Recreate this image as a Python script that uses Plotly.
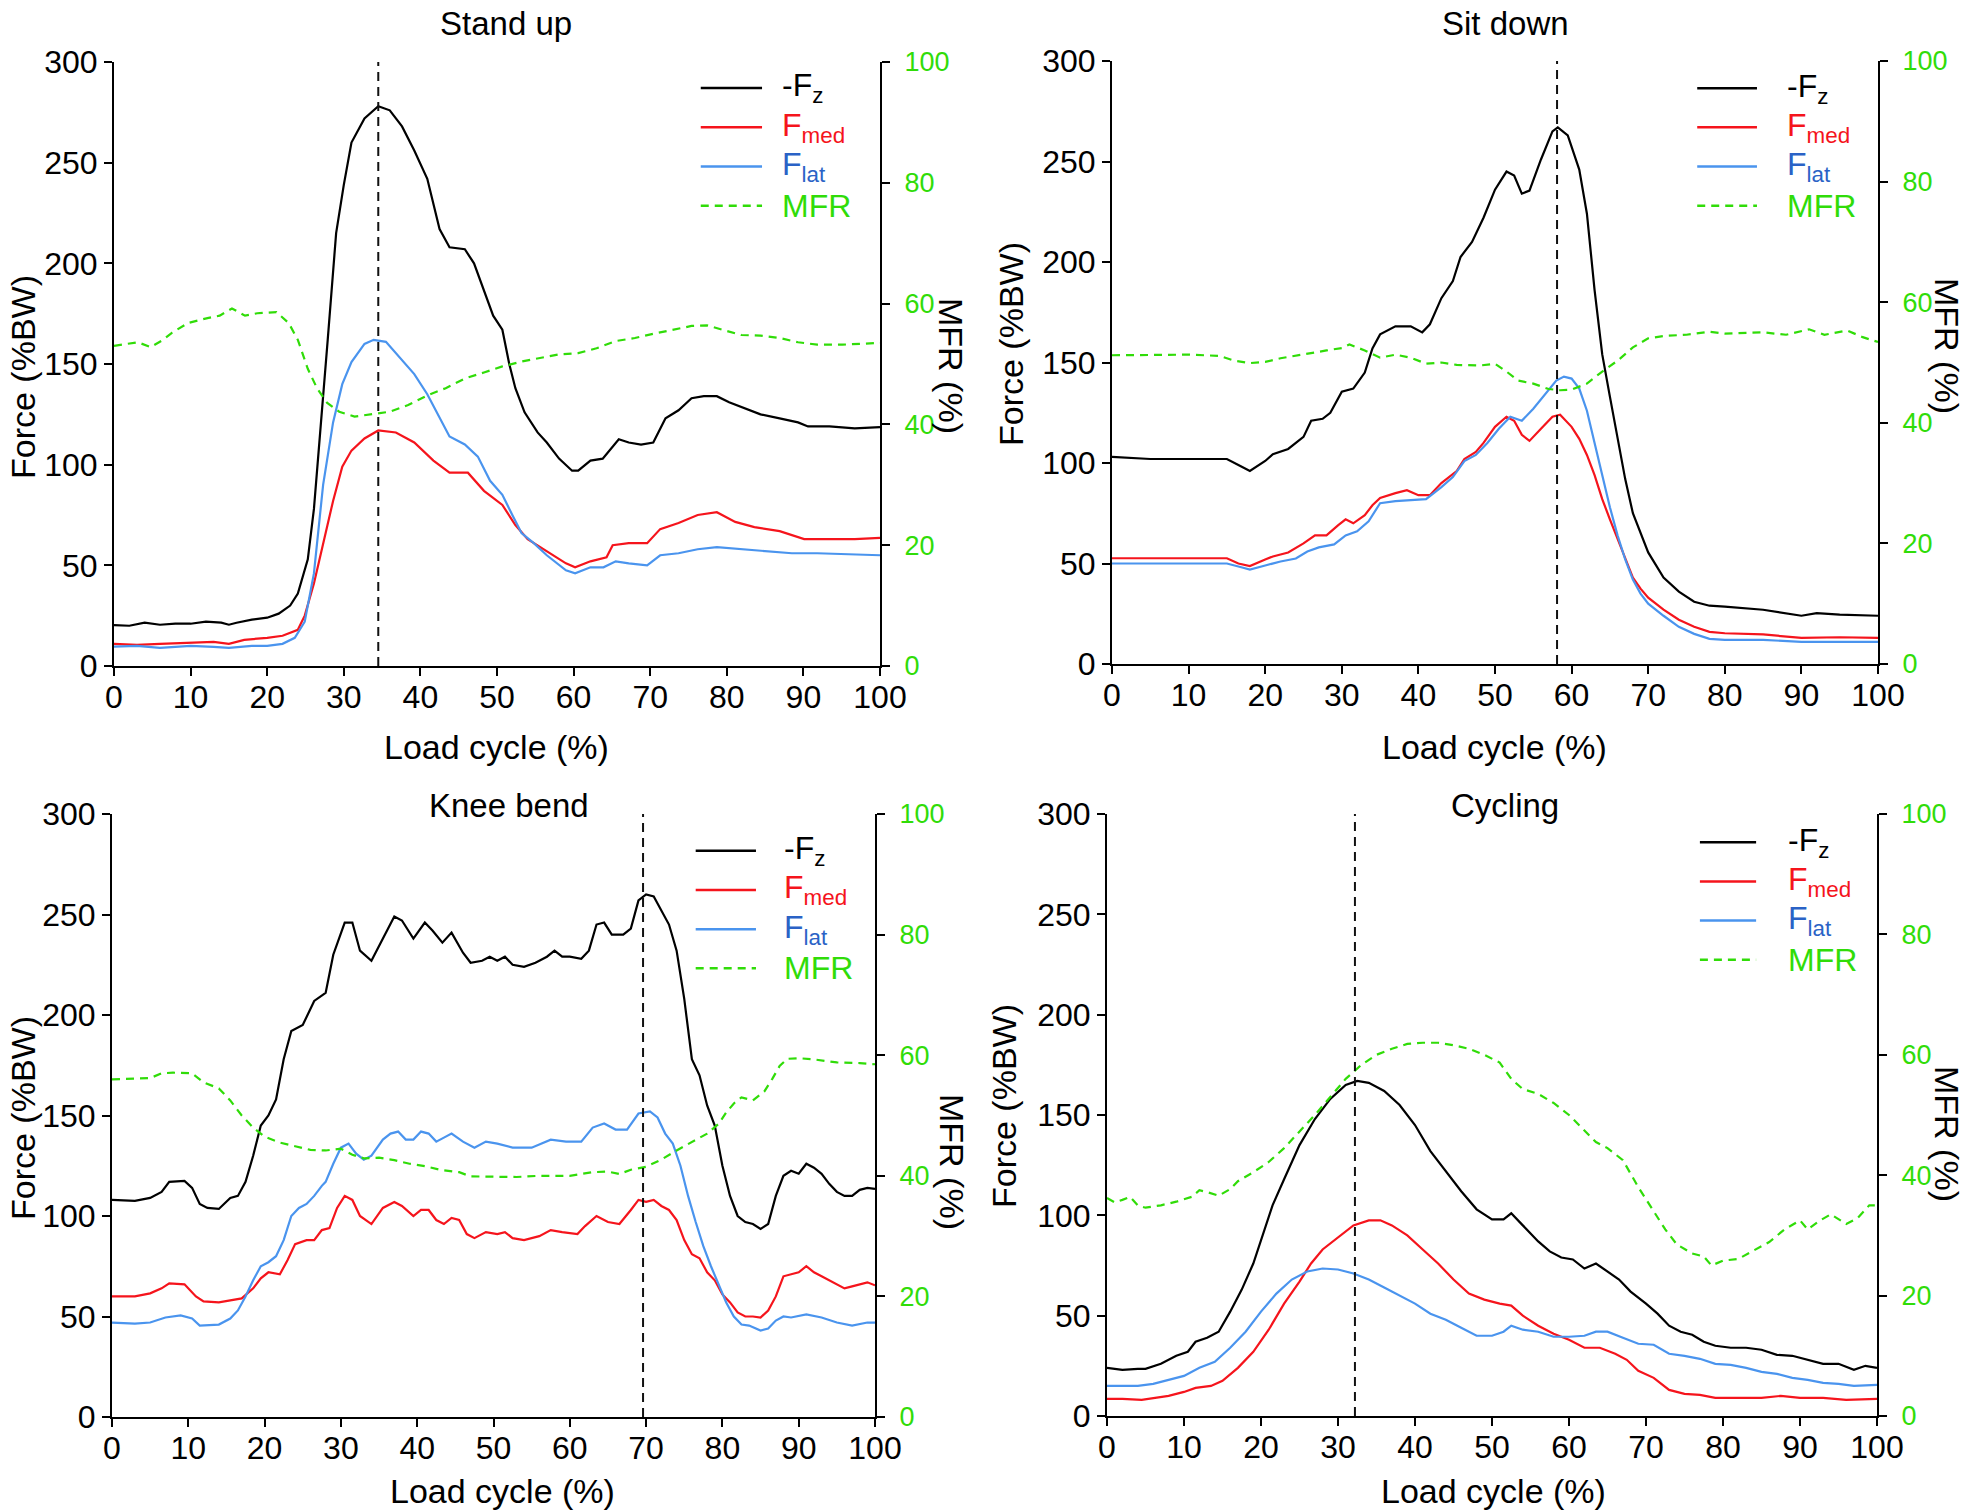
import plotly.graph_objects as go

# ---------------- data ----------------
panel_titles = ["Stand up", "Sit down", "Knee bend", "Cycling"]
peak_cycle = [34.5, 58.1, 69.6, 32.2]   # load-cycle position of the dashed marker line

x_ticks = [0, 10, 20, 30, 40, 50, 60, 70, 80, 90, 100]
force_ticks = [0, 50, 100, 150, 200, 250, 300]
mfr_ticks = [0, 20, 40, 60, 80, 100]

# Stand up
stand_fz = [(0, 20.3), (2, 20), (4, 21.5), (6, 20.5), (8, 21), (10, 21), (12, 22), (14, 21.5), (15, 20.5), (16, 21.5),
            (18, 23), (20, 24), (21.5, 26), (23, 30), (24, 36), (25.3, 53), (26.1, 78), (26.9, 114), (27.9, 162),
            (29, 215), (30, 239), (31, 260), (32.7, 272), (34.5, 278), (36, 276), (37.6, 268), (39.2, 256),
            (40.9, 242), (41.7, 230), (42.5, 217), (43.8, 208), (45.8, 207), (47, 200), (48.3, 186), (49.5, 174),
            (50.7, 167), (51.6, 150), (52.4, 138), (53.6, 126), (55.3, 116), (56.5, 111), (58.1, 103), (59.8, 97),
            (60.6, 97), (62.2, 102), (63.8, 103), (64.7, 107), (65.9, 112.6), (67.2, 111), (68.8, 110), (70.4, 111),
            (72, 123), (73.7, 127), (75.4, 133), (77, 134), (78.7, 134), (80.3, 131), (82.3, 128), (84.4, 125),
            (86.9, 123), (89.3, 121), (90.6, 119), (93.4, 119), (96.7, 118), (100, 118.6)]
stand_fmed = [(0, 11), (3, 10.5), (6, 11), (10, 11.5), (13, 12), (15, 11), (17, 13), (20, 14), (22, 15), (24, 18),
              (24.9, 25), (26.1, 41), (27.3, 61), (28.6, 82), (29.8, 99), (31, 107), (32.7, 113), (34.5, 117),
              (36.8, 116), (39.2, 111), (41.7, 102), (43.8, 96), (46.2, 96), (48.3, 87), (50.7, 80), (52.4, 70),
              (54, 63), (56.5, 57), (59, 51), (60.2, 49), (62.2, 52), (64.3, 54), (65.1, 60), (67.2, 61), (69.6, 61),
              (71.3, 68), (73.7, 71), (76.2, 75), (78.7, 76.4), (81.1, 71.6), (83.6, 69), (86.9, 67), (90.1, 63),
              (93.4, 63), (96.7, 63), (100, 63.6)]
stand_flat = [(0, 9.6), (3, 10), (6, 9), (10, 10), (13, 9.5), (15, 9), (18, 10), (20, 10), (22, 11), (23.6, 14),
              (24.9, 22), (26.1, 46), (27.3, 90), (28.6, 121), (29.8, 140), (31, 151), (32.7, 160), (33.9, 162),
              (35.5, 161), (37.6, 152), (39.2, 145), (40.9, 135), (42.5, 123), (43.8, 114), (45.8, 110), (47.5, 104),
              (49.1, 92), (50.7, 85), (52, 75), (53.2, 66), (54.8, 61), (56.5, 55), (59, 47.5), (60.2, 46), (62.2, 49),
              (63.9, 49), (65.5, 52), (67.2, 51), (69.6, 50), (71.3, 55), (73.7, 56), (76.2, 58), (78.7, 59),
              (81.9, 58), (85.2, 57), (88.5, 56), (91.8, 56), (95, 55.5), (100, 55)]
stand_mfr = [(0, 53), (3.1, 53.6), (4.8, 52.8), (6.4, 54), (7.6, 55.2), (9.7, 56.8), (12.2, 57.6), (13.8, 58),
             (15.4, 59.2), (17.1, 58), (18.7, 58.4), (21.2, 58.6), (22.8, 56.8), (24, 54), (25.3, 49.2), (26.5, 46),
             (27.8, 43.6), (29.4, 42.1), (31.4, 41.3), (33.5, 41.7), (36, 42.1), (38.4, 43.2), (40.9, 44.8),
             (43.3, 46), (45.8, 47.6), (48.3, 48.6), (50.7, 49.6), (53.2, 50.4), (55.7, 51), (58.1, 51.6),
             (60.6, 51.8), (63, 52.6), (65.5, 53.8), (68, 54.3), (70.4, 55), (72.9, 55.6), (75.4, 56.3), (77.4, 56.4),
             (79.5, 55.6), (81.9, 54.8), (84.4, 54.7), (86.9, 54.3), (89.3, 53.6), (91.8, 53.2), (95.1, 53.2),
             (100, 53.5)]

# Sit down
sit_fz = [(0, 103), (5, 102), (10, 102), (15, 102), (16.5, 99), (18, 96), (20, 101), (21, 104.4), (23, 107), (25, 113),
          (26, 121), (27.5, 122), (28.5, 125), (30, 135.5), (31.5, 137), (33, 145), (34, 157), (35, 164), (37, 168),
          (39, 168), (40.5, 165), (41.5, 169), (43, 182), (44.5, 190.5), (45.5, 202.5), (47, 210), (48.5, 222),
          (50, 236), (51.5, 245), (52.5, 243), (53.5, 234), (54.5, 235.5), (56, 251), (57.5, 265), (58.2, 267),
          (59.5, 263), (61, 246), (62, 224), (63, 186), (64, 154), (65, 133), (66, 113), (67, 92), (68, 75), (69, 65),
          (70, 55.5), (72, 43), (74, 36), (76, 31), (78, 29), (80, 28.5), (85, 27), (90, 24), (92, 25.3), (95, 24.6),
          (100, 24)]
sit_fmed = [(0, 52.6), (5, 52.6), (10, 52.6), (15, 52.6), (16.5, 50), (18, 48.7), (20, 52), (21, 53.5), (23, 55.5),
            (25, 60), (26.5, 64), (28, 64), (29.5, 69), (30.5, 72), (31.5, 70), (33, 74), (34, 79), (35, 82.6), (37, 85),
            (38.5, 86.5), (40, 84), (41.5, 84), (43, 90), (45, 96), (46, 102), (47.5, 105.5), (48.5, 110), (50, 118),
            (51.5, 123), (52.5, 121), (53.5, 114), (54.5, 111), (56, 117), (57.5, 123), (58.5, 124), (60, 118),
            (61, 112), (62, 104), (63, 94), (64, 82), (65, 72), (66, 62), (67, 52), (68, 43), (69, 37.5), (70, 33),
            (72, 27), (74, 22), (76, 18.5), (78, 16), (80, 15.3), (85, 14.7), (90, 13), (95, 13.3), (100, 13)]
sit_flat = [(0, 50), (5, 50), (10, 50), (15, 50), (17, 48), (18, 47), (20, 49), (22, 51), (24, 52.5), (25.5, 56),
            (27, 58), (29, 59.5), (30.5, 64), (32, 66), (33.5, 71), (35, 80), (37, 81), (39, 81.5), (41, 82), (43, 88),
            (44.5, 93), (46, 101), (47.5, 104), (49, 110), (50.5, 117), (52, 123), (53.5, 121), (55, 127), (56.5, 134),
            (58, 141), (59, 143), (60, 142), (61, 137), (62, 126), (63, 110), (64, 94), (65, 78), (66, 64), (67, 52),
            (68, 42), (69, 35), (70, 30), (72, 24), (74, 18.5), (76, 15), (78, 12.5), (80, 12), (85, 12), (90, 11),
            (95, 11), (100, 11)]
sit_mfr = [(0, 51.2), (5, 51.2), (10, 51.3), (14, 51.1), (16, 50.3), (18, 49.9), (20, 50.1), (22, 50.7), (25, 51.4),
           (28, 52), (30, 52.4), (31, 53), (33, 52), (35, 50.8), (37, 51.3), (39, 50.8), (41, 49.8), (43, 50),
           (45, 49.6), (48, 49.5), (50, 49.8), (51.5, 48.5), (53, 47), (55, 46.5), (57, 45.6), (58.5, 45.4), (60, 45.5),
           (62, 46.5), (64, 48.5), (66, 50.3), (68, 52.5), (70, 54), (72, 54.4), (75, 54.6), (78, 55.1), (80, 54.8),
           (85, 55), (88, 54.6), (91, 55.5), (93, 54.6), (96, 55.3), (98, 54.2), (100, 53.4)]

# Knee bend
knee_fz = [(0, 108), (3, 107.5), (5, 109), (6.5, 112), (7.5, 117), (9.5, 117.5), (10.5, 114), (11.5, 106), (12.5, 104),
           (14, 103.5), (15.5, 109), (16.5, 110), (17.5, 117), (18.5, 130), (19.5, 145), (20.5, 150), (21.5, 158),
           (22.5, 178), (23.5, 192), (25, 195), (26.5, 207), (28, 211), (29, 230), (30.5, 246), (31.5, 246),
           (32.5, 232), (34, 227), (35.5, 238), (37, 249), (38, 247), (39.5, 238), (41, 246), (42, 242), (43.3, 236),
           (44.5, 241), (46, 231), (47, 226), (48.5, 227), (49.5, 229), (50.5, 227), (51.5, 229), (52.5, 225),
           (54, 224), (55.5, 226), (57, 229), (58, 232), (59, 229), (60, 229), (61.5, 228), (62.5, 232), (63.5, 245),
           (64.5, 246), (65.5, 240), (67, 240), (68, 243), (69, 257), (70, 260), (71, 259), (72, 252), (73, 245),
           (74, 232), (75, 208), (76, 178), (77, 170), (78, 155), (79, 145), (80, 125), (81, 110), (82, 100),
           (83, 97), (84, 96), (85, 93.6), (86, 96), (87, 110), (88, 120), (89, 122.5), (90, 121), (91, 126),
           (92, 124), (93, 121), (94, 116), (95, 112), (96, 110), (97, 110), (98, 113), (99, 114), (100, 113.5)]
knee_fmed = [(0, 60), (3, 60), (5, 61.5), (6.5, 64), (7.5, 66.5), (9.5, 66), (11, 60), (12, 57.5), (14, 57),
             (15.5, 58), (17, 59), (18.5, 64), (19.5, 69), (20.5, 72), (22, 71), (23, 78), (24, 86), (25.5, 88),
             (26.5, 88), (27.5, 93), (28.5, 94), (29.5, 104), (30.5, 110), (31.5, 108), (32.5, 100), (34, 96),
             (35.5, 104), (37, 107), (38, 105), (39.5, 100), (40.5, 103), (41.5, 103), (42.5, 98), (43.5, 96),
             (44.5, 99), (45.5, 98), (46.5, 91), (47.5, 89), (49, 92), (50.5, 91), (51.5, 92), (52.5, 89), (54, 88),
             (56, 90), (57.5, 93), (59, 92), (61, 91), (62, 95), (63.5, 100), (65, 97), (66.5, 96), (68, 103),
             (69, 108), (70, 107), (71, 108), (72, 105), (73, 103), (74, 98), (75, 88), (76, 81), (77, 79), (78, 72),
             (79, 68), (80, 61), (81, 57), (82, 52), (83, 50), (84, 50), (85, 49.5), (86, 53), (87, 60), (88, 70),
             (89, 71), (90, 72), (91, 75), (92, 72), (93, 70), (94, 68), (95, 66), (96, 64), (97, 65), (98, 66),
             (99, 67), (100, 65.5)]
knee_flat = [(0, 47), (3, 46.5), (5, 47), (7, 49.5), (9, 50.5), (10.5, 49), (11.5, 45.5), (14, 46), (15.5, 49),
             (16.5, 53), (17.5, 60), (18.5, 68), (19.5, 75), (20.5, 77), (21.5, 80), (22.5, 88), (23.5, 100),
             (24.5, 104), (25.5, 106), (26.5, 110), (27.5, 115), (28, 117), (29, 126), (30, 134), (31, 136), (32, 131),
             (33, 128), (34, 130), (35.5, 138), (36.5, 141), (37.5, 142), (38.5, 138), (39.5, 138), (40.5, 142),
             (41.5, 141), (42.5, 137), (43.5, 139), (44.5, 141), (46, 137), (47.5, 134), (49, 137), (50.5, 136),
             (52.5, 134), (55, 134), (57.5, 138), (59.5, 137), (61.5, 137), (63, 144), (64.5, 146), (66, 143),
             (67.5, 143), (69, 151), (70.5, 152), (71.5, 149), (72.5, 141), (73.5, 136), (74.5, 125), (75.5, 110),
             (76.5, 97), (77.5, 85), (78.5, 75), (79.5, 66), (80.5, 57), (81.5, 50), (82.5, 46), (83.5, 45.5),
             (85, 43), (86, 44), (87, 48), (88, 50), (89, 49.5), (91, 51), (93, 49.5), (95, 47), (97, 45.5), (99, 47),
             (100, 47)]
knee_mfr = [(0, 56), (5, 56.2), (6.5, 57), (8, 57.1), (10.5, 57), (12, 55.5), (14, 54.5), (15.5, 52.5), (17, 50),
            (18.5, 48), (20, 46.5), (22, 45.5), (24, 44.9), (26, 44.3), (28, 44.2), (30, 44.5), (31.5, 43.5),
            (33, 42.9), (35, 43), (37, 42.6), (39, 42), (41, 41.6), (43, 41), (45.5, 40.6), (47, 39.9), (50, 39.9),
            (53, 39.8), (56, 40), (60, 40), (63, 40.6), (65, 40.7), (66.5, 40.3), (68, 41), (70, 41.5), (72, 42.7),
            (74, 44.2), (76, 45.6), (78, 47), (79.5, 48.6), (80.5, 50.5), (81.5, 52), (82.5, 53), (84, 52.5),
            (85.5, 54), (86.5, 56), (87.5, 58.2), (88.5, 59.4), (90, 59.5), (92, 59.3), (95, 58.8), (98, 58.7),
            (100, 58.5)]

# Cycling
cyc_fz = [(0, 24), (2, 23), (4, 23.5), (5, 23.5), (7, 26), (9, 30), (10.5, 32), (11.5, 37), (13, 39), (14.5, 42),
          (16, 52), (17.5, 63), (19, 76), (20.5, 93), (21.5, 105), (23, 118), (25, 135), (27, 148), (29, 158),
          (31, 165), (32.5, 167), (34, 166), (36, 162), (38, 155), (40, 145), (42, 132), (44, 122), (46, 112),
          (48, 103), (50, 98), (51.5, 98), (52.5, 101), (54, 95), (56, 87), (57.5, 82), (59, 79), (60.5, 78),
          (62, 73.5), (63.5, 76), (65, 72), (66.5, 68), (68, 62), (70, 56), (71.5, 51), (73, 45), (74.5, 42),
          (76, 40.5), (77.5, 37), (79, 35), (81, 34), (83, 34), (85, 33), (87, 30.5), (89, 30), (91, 28), (93, 26),
          (95, 26), (97, 23), (98.5, 25), (100, 24)]
cyc_fmed = [(0, 8.5), (2, 8.5), (4.5, 8), (6, 9), (8, 10), (10, 12), (11.5, 14), (13.5, 15), (15, 17.5), (17, 24),
            (19, 32), (21, 43), (23, 56), (25, 67), (26.5, 76), (28, 83), (30, 89), (32, 95), (34, 97.5), (35.5, 97.5),
            (37, 95), (39, 90), (41, 83), (43, 76), (45, 68), (47, 61), (49, 58), (51, 56), (52.5, 55), (54, 50),
            (56, 45), (58, 41), (60, 38), (62, 34), (64, 34), (66, 31), (67.5, 28), (69, 22.5), (71, 19), (73, 13),
            (75, 11), (77, 10.5), (79, 9), (82, 9), (85, 9), (87.5, 10), (90, 9), (93, 9), (96, 8), (100, 8.5)]
cyc_flat = [(0, 15), (2, 15), (4, 15), (6, 16), (8, 18), (10, 20), (12, 24), (14, 27), (16, 34), (18, 42), (20, 52),
            (22, 61), (24, 68), (26, 72), (28, 73.5), (30, 73), (32, 71), (34, 68), (36, 64), (38, 60), (40, 56),
            (42, 51), (44, 48), (46, 44), (48, 40), (50, 40), (51.5, 42), (52.5, 45), (54, 43), (56, 42), (58, 39.5),
            (60, 39.5), (62, 40), (63.5, 42), (65, 42), (67, 39), (69, 36), (71, 35.5), (73, 31), (75, 30), (77, 28.5),
            (79, 26), (81, 25.5), (83, 24), (85, 22), (87, 21), (89, 19), (91, 18), (93, 16.5), (95, 16), (97, 15),
            (100, 15.5)]
cyc_mfr = [(0, 36.2), (1, 35.5), (2, 35.9), (3, 36.4), (4, 35), (5, 34.6), (7, 35), (9, 35.6), (11, 36.4), (12, 37.5),
           (13, 37.2), (14.5, 36.6), (16, 37.7), (17, 39), (19, 40.5), (21, 42.2), (23, 44.5), (25, 47.2), (27, 50),
           (29, 53), (31, 56), (33, 58.3), (35, 60), (37, 61), (39, 61.8), (41, 62), (43, 62), (45, 61.6), (47, 61),
           (49, 60), (51, 58.7), (52.5, 56), (54, 54.3), (56, 53.5), (58, 52), (60, 50), (62, 47.4), (63.5, 45.5),
           (65, 44.5), (67, 42.5), (69, 38), (71, 34), (72.5, 31), (74, 28.5), (76, 27), (77.5, 26.5), (78.5, 25),
           (80, 25.8), (82, 26.1), (84, 27.5), (86, 28.9), (88, 31), (90, 32.5), (91, 31), (92.5, 32.4), (94, 33.5),
           (96, 31.9), (97.5, 32.9), (99, 35), (100, 35)]

series_names = ["-F<sub>z</sub>", "F<sub>med</sub>", "F<sub>lat</sub>", "MFR"]
panel_series = [
    [stand_fz, stand_fmed, stand_flat, stand_mfr],
    [sit_fz, sit_fmed, sit_flat, sit_mfr],
    [knee_fz, knee_fmed, knee_flat, knee_mfr],
    [cyc_fz, cyc_fmed, cyc_flat, cyc_mfr],
]

# ---------------- style / layout ----------------
W, H = 1970, 1511
OFF = 0  # page body margin is removed below, so figure pixels equal screen pixels
FONT = "Liberation Sans, Arial, Helvetica, sans-serif"
BLACK = "#000000"
RED = "#f5141c"
BLUE = "#4a94ee"
BLUE_TXT = "#2a62c6"
GREEN = "#30dc08"
line_colors = [BLACK, RED, BLUE, GREEN]
text_colors = [BLACK, RED, BLUE_TXT, GREEN]

# plot-area boxes in screen pixels: (left, right, top, bottom)
boxes = [(114, 880, 62, 666), (1112, 1878, 61, 664), (112, 875, 814, 1417), (1107, 1877, 814, 1416)]
title_pos = [(506, 24), (1505, 24), (509, 805), (1505, 805)]
xtitle_pos = [(496, 747), (1494, 747), (502, 1491), (1493, 1491)]
ytitle_pos = [(23, 377), (1011, 344), (23, 1118), (1004, 1106)]
rtitle_pos = [(951, 366), (1947, 346), (952, 1162), (1947, 1134)]
# legend geometry in axis-domain fractions: (line x0, line x1, text x, first row y, row step)
legend_geo = [(0.766, 0.846, 0.869, 0.957, 0.065),
              (0.764, 0.842, 0.879, 0.955, 0.065),
              (0.765, 0.844, 0.878, 0.939, 0.065),
              (0.770, 0.843, 0.882, 0.953, 0.065)]


def fx(x):
    return (x - OFF) / W


def fy(y):
    return 1 - (y - OFF) / H


fig = go.Figure()
layout = dict(width=W, height=H, autosize=False, margin=dict(l=0, r=0, t=0, b=0, pad=0, autoexpand=False),
              showlegend=False, paper_bgcolor="white", plot_bgcolor="white",
              font=dict(family=FONT, color="black"))
annotations = []
shapes = []

axis_common = dict(showline=True, linecolor="black", linewidth=2, ticks="outside", ticklen=8, tickwidth=2,
                   tickcolor="black", showgrid=False, zeroline=False, automargin=False)

for i in range(4):
    xid = "x" if i == 0 else f"x{i + 1}"
    yl = f"y{2 * i + 1}" if i > 0 else "y"
    yr = f"y{2 * i + 2}"
    xkey = "xaxis" if i == 0 else f"xaxis{i + 1}"
    ylkey = "yaxis" if i == 0 else f"yaxis{2 * i + 1}"
    yrkey = f"yaxis{2 * i + 2}"
    l, r, t, b = boxes[i]
    layout[xkey] = dict(axis_common, domain=[fx(l), fx(r)], anchor=yl, range=[0, 100], tickvals=x_ticks,
                        ticklabelstandoff=-6, tickfont=dict(size=32, color="black", family=FONT))
    layout[ylkey] = dict(axis_common, domain=[fy(b), fy(t)], anchor=xid, range=[0, 300],
                         tickvals=force_ticks, tickfont=dict(size=32, color="black", family=FONT))
    layout[yrkey] = dict(axis_common, overlaying=yl, side="right", anchor=xid, range=[0, 100],
                         tickvals=mfr_ticks, ticklabelstandoff=9, tickfont=dict(size=27, color=GREEN, family=FONT))

    for k, data in enumerate(panel_series[i]):
        xs = [p[0] for p in data]
        ys = [p[1] for p in data]
        fig.add_trace(go.Scatter(
            x=xs, y=ys, mode="lines", name=series_names[k],
            xaxis=xid, yaxis=(yr if k == 3 else yl),
            line=dict(color=line_colors[k], width=2.2, dash=("8px,6px" if k == 3 else "solid")),
            hoverinfo="x+y"))

    # dashed marker line at the peak
    shapes.append(dict(type="line", xref=xid, yref=f"{yl} domain", x0=peak_cycle[i], x1=peak_cycle[i],
                       y0=0, y1=1, line=dict(color="#111111", width=2, dash="9px,6px")))

    # legend (drawn per panel)
    lx0, lx1, ltx, ly0, ldy = legend_geo[i]
    for k in range(4):
        yy = ly0 - k * ldy
        shapes.append(dict(type="line", xref=f"{xid} domain", yref=f"{yl} domain", x0=lx0, x1=lx1, y0=yy, y1=yy,
                           line=dict(color=line_colors[k], width=2.5, dash=("8px,6px" if k == 3 else "solid"))))
        annotations.append(dict(text=series_names[k], xref=f"{xid} domain", yref=f"{yl} domain", x=ltx, y=yy,
                                xanchor="left", yanchor="middle", showarrow=False,
                                font=dict(size=32, color=text_colors[k], family=FONT)))

    # titles
    tx, ty = title_pos[i]
    annotations.append(dict(text=panel_titles[i], xref="paper", yref="paper", x=fx(tx), y=fy(ty), xanchor="center",
                            yanchor="middle", showarrow=False, borderpad=0,
                            font=dict(size=33, family=FONT, color="black")))
    ax_, ay_ = xtitle_pos[i]
    annotations.append(dict(text="Load cycle (%)", xref="paper", yref="paper", x=fx(ax_), y=fy(ay_),
                            xanchor="center", yanchor="middle", showarrow=False, borderpad=0,
                            font=dict(size=34, family=FONT, color="black")))
    bx, by = ytitle_pos[i]
    annotations.append(dict(text="Force (%BW)", xref="paper", yref="paper", x=fx(bx), y=fy(by), xanchor="center",
                            yanchor="middle", textangle=-90, showarrow=False, borderpad=0,
                            font=dict(size=34, family=FONT, color="black")))
    cx, cy = rtitle_pos[i]
    annotations.append(dict(text="MFR (%)", xref="paper", yref="paper", x=fx(cx), y=fy(cy), xanchor="center",
                            yanchor="middle", textangle=90, showarrow=False, borderpad=0,
                            font=dict(size=34, family=FONT, color="black")))

layout["annotations"] = annotations
layout["shapes"] = shapes
fig.update_layout(**layout)

fig.write_html("out.html", include_plotlyjs=True,
               config={"displayModeBar": False, "responsive": False},
               post_script="document.body.style.margin='0px';document.body.style.padding='0px';")
